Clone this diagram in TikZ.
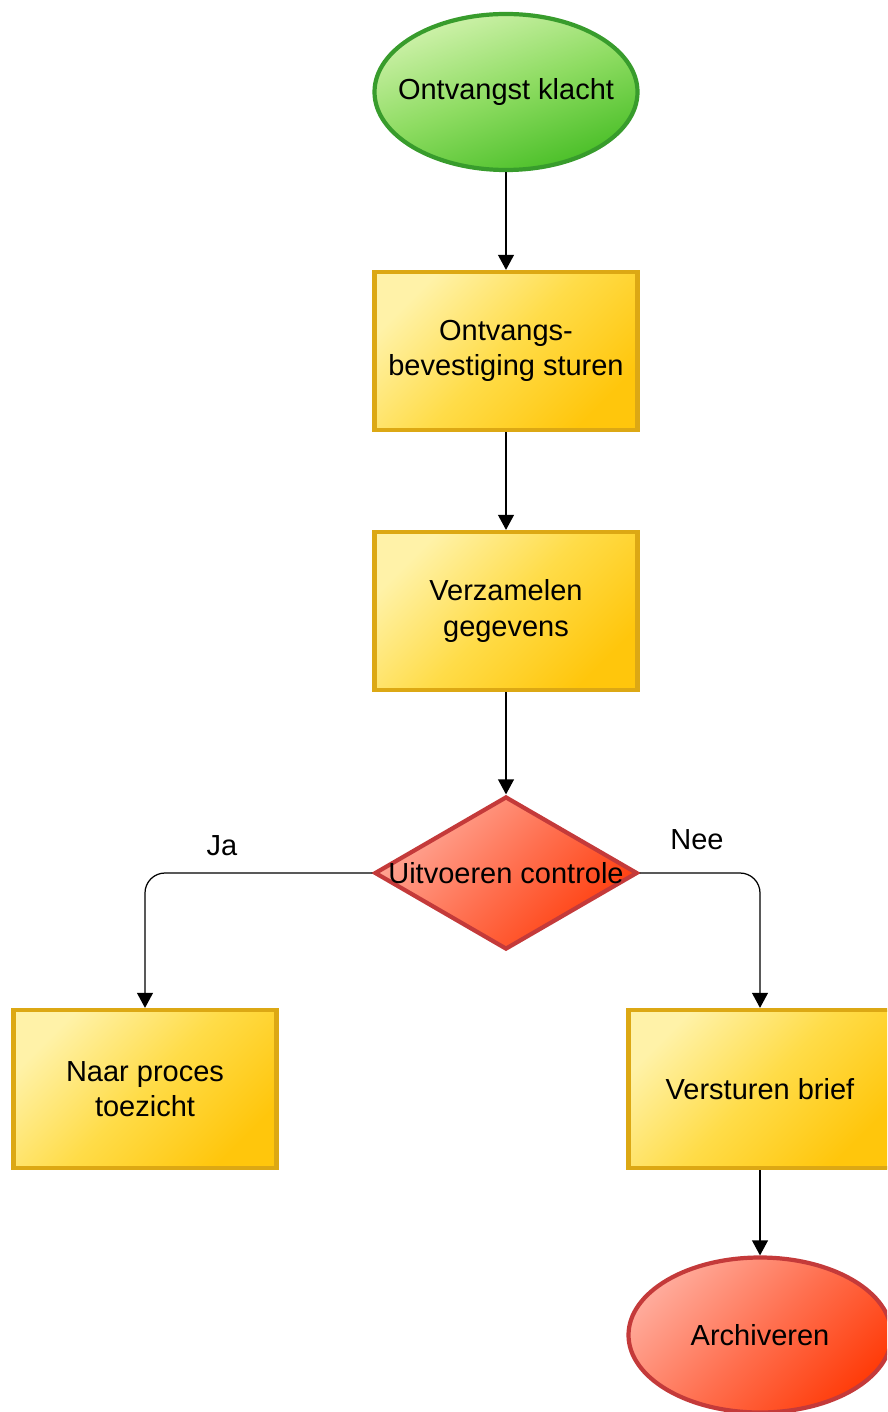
\documentclass[tikz,border=0pt]{standalone}
\usepackage{fontspec}
\setmainfont{Liberation Sans}
\usetikzlibrary{shapes.geometric,arrows.meta}

\definecolor{geellicht}{HTML}{FFF2A8}
\definecolor{geelmidden}{HTML}{FFDC48}
\definecolor{geeldonker}{HTML}{FFC60C}
\definecolor{geelrand}{HTML}{DCA814}
\definecolor{groenlicht}{HTML}{D0F2AC}
\definecolor{groenmidden}{HTML}{8EDC62}
\definecolor{groendonker}{HTML}{48BE26}
\definecolor{groenrand}{HTML}{389C2C}
\definecolor{roodlicht}{HTML}{FFAA9A}
\definecolor{roodmidden}{HTML}{FF7050}
\definecolor{rooddonker}{HTML}{FF3C0A}
\definecolor{roodrand}{HTML}{C43A3A}

\tikzset{
  procbox/.style={rectangle, draw=geelrand, line width=2.4pt, top color=geellicht,
    bottom color=geeldonker, middle color=geelmidden, shading angle=45,
    minimum width=5.26cm, minimum height=3.16cm, inner sep=0pt, align=center},
  startvorm/.style={ellipse, draw=groenrand, line width=2.4pt, top color=groenlicht,
    bottom color=groendonker, middle color=groenmidden, shading angle=20,
    minimum width=5.26cm, minimum height=3.12cm, inner sep=0pt},
  eindvorm/.style={ellipse, draw=roodrand, line width=2.4pt, top color=roodlicht,
    bottom color=rooddonker, middle color=roodmidden, shading angle=45,
    minimum width=5.26cm, minimum height=3.1cm, inner sep=0pt},
  keuze/.style={diamond, draw=roodrand, line width=2.4pt, top color=roodlicht,
    bottom color=rooddonker, middle color=roodmidden, shading angle=45,
    minimum width=5.26cm, minimum height=3.06cm, inner sep=0pt},
  flow/.style={line width=0.7pt, black, -{Triangle[width=9pt,length=8.5pt]}}
}

\begin{document}
\begin{tikzpicture}[font=\fontsize{16.5}{20}\selectfont]

\useasboundingbox (0,0) rectangle (17.74,-28.24);
\clip (0,0) rectangle (17.74,-28.24);

\node[startvorm] (start) at (10.12,-1.84) {};
\node (starttekst) at (start) {Ontvangst klacht};

\node[procbox] (bev) at (10.12,-7.02) {Ontvangs-\\bevestiging sturen};
\node[procbox] (verz) at (10.12,-12.22) {Verzamelen\\gegevens};

\node[keuze] (ctrl) at (10.12,-17.46) {};
\node (ctrltekst) at (ctrl) {Uitvoeren controle};

\node[procbox] (naar) at (2.9,-21.78) {Naar proces\\toezicht};
\node[procbox] (brief) at (15.2,-21.78) {Versturen brief};

\node[eindvorm] (arch) at (15.2,-26.7) {};
\node (archtekst) at (arch) {Archiveren};

\foreach \a/\b in {start/bev, bev/verz, verz/ctrl, brief/arch}
{
    \draw[flow] (\a) -- (\b);
}

\draw[flow, rounded corners=0.4cm] (ctrl.west) -| (naar.north);
\draw[flow, rounded corners=0.4cm] (ctrl.east) -| (brief.north);

\node (ja) at (4.44,-16.92) {Ja};
\node (nee) at (13.94,-16.8) {Nee};

\end{tikzpicture}
\end{document}
